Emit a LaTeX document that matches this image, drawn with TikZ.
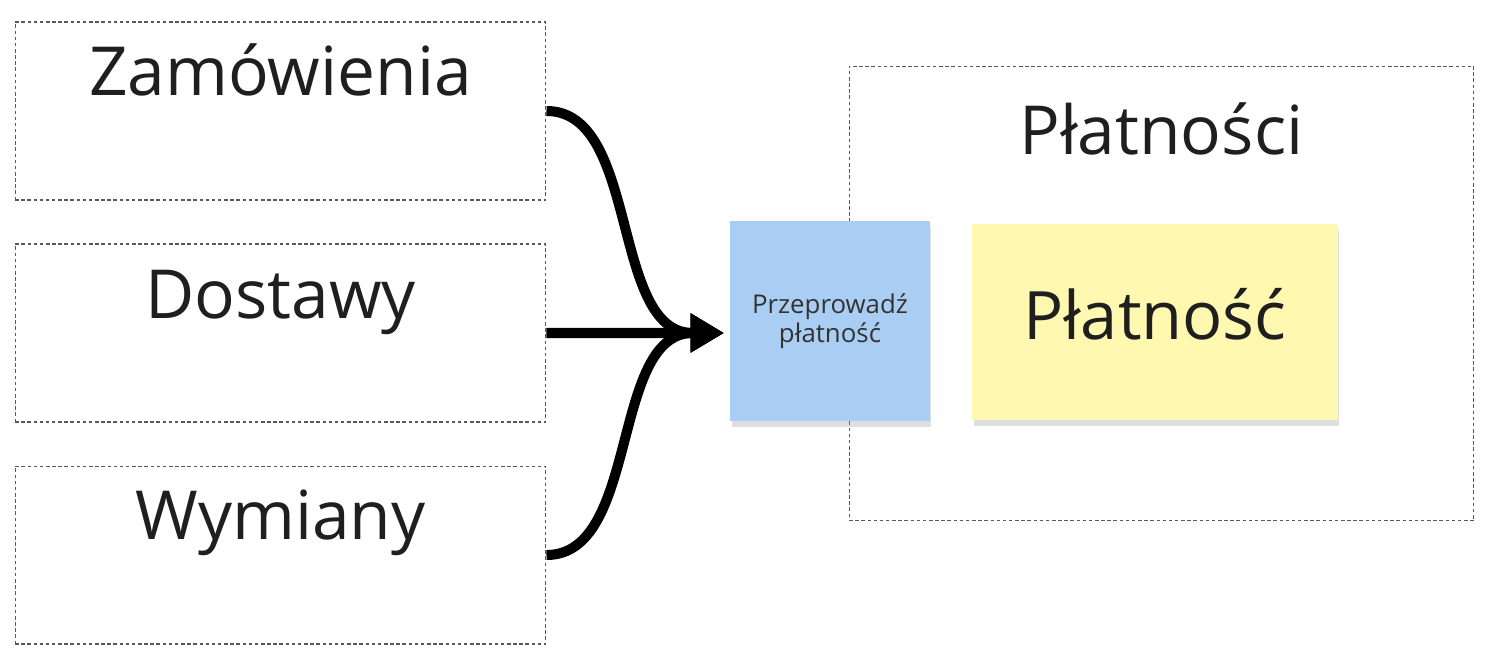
\documentclass[tikz,border=0pt]{standalone}
\usepackage{fontspec}
\setmainfont{Open Sans}
\usepackage{tikz}
\usetikzlibrary{arrows.meta,positioning,shadows}
\definecolor{stickyblue}{HTML}{A9CDF3}
\definecolor{stickyyellow}{HTML}{FFF8B0}
\definecolor{inkdark}{HTML}{1F1F1F}

\begin{document}
\begin{tikzpicture}[
  x=0.02cm,y=-0.02cm,
  context/.style={draw=black!65,dash pattern=on 2pt off 1.5pt,line width=0.6pt,minimum width=10.62cm,minimum height=3.56cm,inner sep=0pt},
  title/.style={anchor=base,font=\fontsize{38.5}{46}\selectfont,text=inkdark,inner sep=0pt},
  sticky/.style={inner sep=0pt,align=center,drop shadow={opacity=0.25,shadow xshift=0.3mm,shadow yshift=-1.2mm}},
  flow/.style={-{Triangle[length=19pt,width=21pt]},line width=5.7pt,color=black}
]
\useasboundingbox (0,0) rectangle (1489,671);

% left contexts
\node[context] (zam) at (280.5,111) {};
\node[context,below=0.86cm of zam] (dost) {};
\node[context,below=0.86cm of dost] (wym) {};
\node[title] at ([yshift=-1.48cm]zam.north) {Zamówienia};
\node[title] at ([yshift=-1.5cm]dost.north) {Dostawy};
\node[title] at ([yshift=-1.48cm]wym.north) {Wymiany};

% payments context
\node[context,minimum width=12.5cm,minimum height=9.1cm] (plat) at (1161.5,293.5) {};
\node[title] at ([yshift=-1.78cm]plat.north) {Płatności};

\node[sticky,fill=stickyblue,minimum width=4cm,minimum height=4cm,text=black!80,font=\fontsize{14.7}{16.5}\selectfont] (cmd) at (830,321) {Przeprowadź\\płatność};
\node[sticky,fill=stickyyellow,minimum width=7.32cm,minimum height=3.92cm,text depth=9pt,text=inkdark,font=\fontsize{38}{46}\selectfont] (agg) at (1155,322) {Płatność};

\coordinate (tip) at (724,333);
\draw[flow] (zam.east) .. controls (640,111) and (610,333) .. (tip);
\draw[flow] (dost.east) -- (tip);
\draw[flow] (wym.east) .. controls (640,555) and (610,333) .. (tip);
\end{tikzpicture}
\end{document}
